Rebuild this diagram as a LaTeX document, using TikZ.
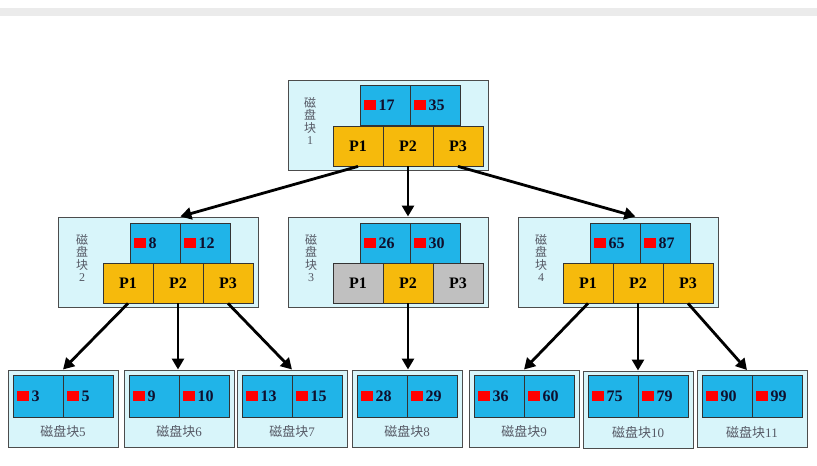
\documentclass[tikz,border=0pt]{standalone}
\usepackage{fontspec}
\setmainfont{Liberation Serif}
\newfontfamily\cjk{Noto Sans CJK SC}
\usetikzlibrary{arrows.meta}

\definecolor{diskbg}{RGB}{216,245,250}
\definecolor{keyblue}{RGB}{32,180,232}
\definecolor{ptrgold}{RGB}{246,186,12}
\definecolor{ptrgray}{RGB}{192,192,192}
\definecolor{labelgray}{RGB}{85,88,100}
\definecolor{bargray}{RGB}{235,235,235}
\definecolor{keyink}{RGB}{15,15,45}

\newcommand{\keyval}[1]{\makebox[42pt][l]{\textcolor{red}{\rule{12pt}{10pt}}\,#1}}

\tikzset{
  disk/.style={draw=black!70, fill=diskbg, line width=1pt, minimum width=200pt, minimum height=90pt, inner sep=0pt},
  leafdisk/.style={disk, minimum width=110pt, minimum height=77pt},
  keycell/.style={draw=black!80, fill=keyblue, text=keyink, line width=.8pt, minimum width=50pt, minimum height=40pt, inner sep=0pt, font=\fontsize{16}{18}\selectfont\bfseries},
  leafkey/.style={keycell, minimum height=42pt},
  ptrcell/.style={keycell, text=black, fill=ptrgold},
  ptrnull/.style={ptrcell, fill=ptrgray},
  vlabel/.style={labelgray, align=center, font=\fontsize{12}{12.5}\selectfont\cjk},
  leaflabel/.style={labelgray, font=\fontsize{13}{15}\selectfont},
  link/.style={line width=2.8pt, -{Triangle[length=11pt,width=12pt]}}
}

\begin{document}
\begin{tikzpicture}[x=1pt,y=-1pt]
        \useasboundingbox (0,0) rectangle (817,466);
        \fill[bargray] (0,8) rectangle (817,16);

        % disk block 1 (root)
        \node[disk] (b1) at (388,125) {};
        \node[keycell] (b1k1) at (385,105) {\keyval{17}};
        \node[keycell] (b1k2) at (435,105) {\keyval{35}};
        \node[ptrcell] (b1p1) at (358,146) {P1};
        \node[ptrcell] (b1p2) at (408,146) {P2};
        \node[ptrcell] (b1p3) at (458,146) {P3};
        \node[vlabel] (b1lab) at (310,121) {磁\\盘\\块\\\rmfamily 1};

        % disk blocks 2, 3, 4
        \node[disk] (b2) at (158,262) {};
        \node[keycell] (b2k1) at (155,243) {\keyval{8}};
        \node[keycell] (b2k2) at (205,243) {\keyval{12}};
        \node[ptrcell] (b2p1) at (128,283) {P1};
        \node[ptrcell] (b2p2) at (178,283) {P2};
        \node[ptrcell] (b2p3) at (228,283) {P3};
        \node[vlabel] (b2lab) at (82,258) {磁\\盘\\块\\\rmfamily 2};

        \node[disk] (b3) at (388,262) {};
        \node[keycell] (b3k1) at (385,243) {\keyval{26}};
        \node[keycell] (b3k2) at (435,243) {\keyval{30}};
        \node[ptrnull] (b3p1) at (358,283) {P1};
        \node[ptrcell] (b3p2) at (408,283) {P2};
        \node[ptrnull] (b3p3) at (458,283) {P3};
        \node[vlabel] (b3lab) at (311,258) {磁\\盘\\块\\\rmfamily 3};

        \node[disk] (b4) at (618,262) {};
        \node[keycell] (b4k1) at (615,243) {\keyval{65}};
        \node[keycell] (b4k2) at (665,243) {\keyval{87}};
        \node[ptrcell] (b4p1) at (588,283) {P1};
        \node[ptrcell] (b4p2) at (638,283) {P2};
        \node[ptrcell] (b4p3) at (688,283) {P3};
        \node[vlabel] (b4lab) at (541,258) {磁\\盘\\块\\\rmfamily 4};

        % leaf blocks 5 .. 11
        \node[leafdisk] (leaf5) at (63,408.5) {};
        \node[leafkey] (leaf5a) at (38,396) {\keyval{3}};
        \node[leafkey] (leaf5b) at (88,396) {\keyval{5}};
        \node[leaflabel] (leaf5lab) at (63,432) {{\cjk 磁盘块}5};

        \node[leafdisk] (leaf6) at (179,408.5) {};
        \node[leafkey] (leaf6a) at (154,396) {\keyval{9}};
        \node[leafkey] (leaf6b) at (204,396) {\keyval{10}};
        \node[leaflabel] (leaf6lab) at (179,432) {{\cjk 磁盘块}6};

        \node[leafdisk] (leaf7) at (292,408.5) {};
        \node[leafkey] (leaf7a) at (267,396) {\keyval{13}};
        \node[leafkey] (leaf7b) at (317,396) {\keyval{15}};
        \node[leaflabel] (leaf7lab) at (292,432) {{\cjk 磁盘块}7};

        \node[leafdisk] (leaf8) at (407,408.5) {};
        \node[leafkey] (leaf8a) at (382,396) {\keyval{28}};
        \node[leafkey] (leaf8b) at (432,396) {\keyval{29}};
        \node[leaflabel] (leaf8lab) at (407,432) {{\cjk 磁盘块}8};

        \node[leafdisk] (leaf9) at (524,408.5) {};
        \node[leafkey] (leaf9a) at (499,396) {\keyval{36}};
        \node[leafkey] (leaf9b) at (549,396) {\keyval{60}};
        \node[leaflabel] (leaf9lab) at (524,432) {{\cjk 磁盘块}9};

        \node[leafdisk] (leaf10) at (638,409.5) {};
        \node[leafkey] (leaf10a) at (613,396) {\keyval{75}};
        \node[leafkey] (leaf10b) at (663,396) {\keyval{79}};
        \node[leaflabel] (leaf10lab) at (638,433) {{\cjk 磁盘块}10};

        \node[leafdisk] (leaf11) at (752,409) {};
        \node[leafkey] (leaf11a) at (727,396) {\keyval{90}};
        \node[leafkey] (leaf11b) at (777,396) {\keyval{99}};
        \node[leaflabel] (leaf11lab) at (752,433) {{\cjk 磁盘块}11};

        % pointers
        \draw[link] (b1p1.south) -- (b2k1.north east |- b2.north);
        \draw[link] (b1p2.south) -- (b1p2.south |- b3.north);
        \draw[link] (b1p3.south) -- ([xshift=-5pt]b4k1.north east |- b4.north);

        \draw[link] (b2p1.south) -- (leaf5.north);
        \draw[link] (b2p2.south) -- (b2p2.south |- leaf6.north);
        \draw[link] (b2p3.south) -- (leaf7.north);
        \draw[link] (b3p2.south) -- (b3p2.south |- leaf8.north);
        \draw[link] (b4p1.south) -- (leaf9.north);
        \draw[link] (b4p2.south) -- (b4p2.south |- leaf10.north);
        \draw[link] (b4p3.south) -- ([xshift=-5pt]leaf11.north);
    \end{tikzpicture}
\end{document}
